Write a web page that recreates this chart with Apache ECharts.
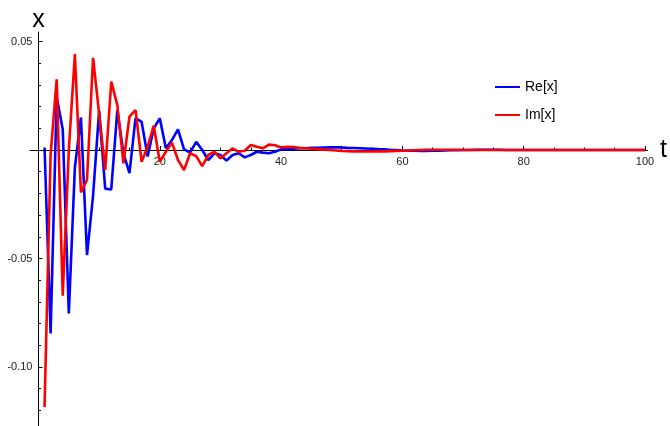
<!DOCTYPE html>
<html>
<head>
<meta charset="utf-8">
<script src="https://cdn.jsdelivr.net/npm/echarts@6/dist/echarts.min.js"></script>
<style>
  html, body { margin: 0; padding: 0; background: #fff; }
  #chart { width: 670px; height: 426px; }
</style>
</head>
<body>
<div id="chart"></div>
<script>
// time steps 1..100
const tValues = Array.from({ length: 100 }, (_, i) => i + 1);

const reValues = [
  0.0012, -0.0845, 0.0246, 0.0095, -0.0753, -0.0080, 0.0150, -0.0484, -0.0210, 0.0182,
  -0.0178, -0.0182, 0.0184, -0.0014, -0.0106, 0.0147, 0.0130, -0.0030, 0.0100, 0.0146,
  0.0008, 0.0046, 0.0095, 0.0003, -0.0012, 0.0038, 0.0000, -0.0046, -0.0015, -0.0023,
  -0.0049, -0.0023, -0.0015, -0.0034, -0.0023, -0.0008, -0.0012, -0.0015, -0.0008, 0.0003,
  0.0005, 0.0006, 0.0008, 0.0008, 0.0010, 0.0010, 0.0011, 0.0012, 0.0012, 0.0012,
  0.0010, 0.0009, 0.0008, 0.0007, 0.0006, 0.0004, 0.0003, 0.0001, 0.0000, -0.0002,
  -0.0003, -0.0003, -0.0004, -0.0004, -0.0003, -0.0003, -0.0002, -0.0001, -0.0001, 0.0000,
  0.0000, 0.0001, 0.0001, 0.0001, 0.0001, 0.0001, 0.0000, 0.0000, 0.0000, 0.0000,
  0.0000, 0.0000, 0.0000, 0.0000, 0.0000, 0.0000, 0.0000, 0.0000, 0.0000, 0.0000,
  0.0000, 0.0000, 0.0000, 0.0000, 0.0000, 0.0000, 0.0000, 0.0000, 0.0000, 0.0000
];

const imValues = [
  -0.1184, -0.0020, 0.0326, -0.0671, 0.0000, 0.0442, -0.0195, -0.0138, 0.0425, 0.0166,
  -0.0092, 0.0315, 0.0207, -0.0061, 0.0154, 0.0184, -0.0054, 0.0015, 0.0112, -0.0054,
  -0.0008, 0.0034, -0.0046, -0.0092, -0.0015, -0.0028, -0.0074, -0.0023, -0.0008, -0.0038,
  -0.0015, 0.0008, -0.0008, -0.0003, 0.0023, 0.0015, 0.0008, 0.0025, 0.0022, 0.0012,
  0.0015, 0.0014, 0.0010, 0.0008, 0.0006, 0.0004, 0.0002, 0.0000, -0.0002, -0.0004,
  -0.0005, -0.0006, -0.0007, -0.0007, -0.0007, -0.0006, -0.0006, -0.0005, -0.0004, -0.0003,
  -0.0002, -0.0001, 0.0000, 0.0001, 0.0001, 0.0001, 0.0001, 0.0001, 0.0001, 0.0000,
  0.0000, 0.0000, 0.0000, 0.0000, 0.0000, 0.0000, 0.0000, 0.0000, 0.0000, 0.0000,
  0.0000, 0.0000, 0.0000, 0.0000, 0.0000, 0.0000, 0.0000, 0.0000, 0.0000, 0.0000,
  0.0000, 0.0000, 0.0000, 0.0000, 0.0000, 0.0000, 0.0000, 0.0000, 0.0000, 0.0000
];

const xTicks = [20, 40, 60, 80, 100];
const xMinorTicks = [5, 10, 15, 25, 30, 35, 45, 50, 55, 65, 70, 75, 85, 90, 95];
const yTicks = [-0.10, -0.05, 0.05];
const yMinorTicks = [-0.12, -0.11, -0.09, -0.08, -0.07, -0.06, -0.04, -0.03, -0.02, -0.01,
  0.01, 0.02, 0.03, 0.04];

const xMin = -1.4, xMax = 100.4;
const yMin = -0.1272, yMax = 0.0544;

const gridLeft = 30, gridRight = 22.6, gridTop = 32, gridBottom = 0;
const gridW = 670 - gridLeft - gridRight;
const gridH = 426 - gridTop - gridBottom;
// axes cross at (0, 0)
const xAxisOffset = -gridH * (0 - yMin) / (yMax - yMin);
const yAxisOffset = -gridW * (0 - xMin) / (xMax - xMin);

const font = 'Liberation Sans, Arial, sans-serif';
const axisColor = '#000';

const pairs = vals => tValues.map((t, i) => [t, vals[i]]);

const option = {
  animation: false,
  backgroundColor: '#fff',
  grid: {
    left: gridLeft, right: gridRight, top: gridTop, bottom: gridBottom,
    containLabel: false,
    outerBoundsMode: 'none'
  },
  legend: {
    orient: 'vertical',
    left: 490,
    top: 75,
    itemWidth: 25,
    itemHeight: 14,
    itemGap: 14,
    icon: 'path://M0,0L25,0L25,2L0,2Z',
    symbolKeepAspect: true,
    data: ['Re[x]', 'Im[x]'],
    textStyle: { fontFamily: font, fontSize: 14, color: '#000' }
  },
  xAxis: [
    {
      type: 'value', min: xMin, max: xMax,
      position: 'bottom', offset: xAxisOffset,
      name: 't', nameLocation: 'end', nameGap: 10,
      nameTextStyle: { fontFamily: font, fontSize: 25, color: '#000', padding: [10, 0, 0, 0] },
      axisLine: { onZero: false, lineStyle: { color: axisColor, width: 1 } },
      axisTick: { inside: true, length: 4, customValues: xTicks, lineStyle: { color: axisColor } },
      axisLabel: { customValues: xTicks, margin: 6, fontFamily: font, fontSize: 11, color: '#222' },
      splitLine: { show: false }
    },
    {
      type: 'value', min: xMin, max: xMax,
      position: 'bottom', offset: xAxisOffset,
      axisLine: { show: false, onZero: false },
      axisTick: { inside: true, length: 2.5, customValues: xMinorTicks, lineStyle: { color: axisColor } },
      axisLabel: { show: false },
      splitLine: { show: false }
    }
  ],
  yAxis: [
    {
      type: 'value', min: yMin, max: yMax,
      position: 'left', offset: yAxisOffset,
      name: 'x', nameLocation: 'end', nameGap: 12,
      nameTextStyle: { fontFamily: font, fontSize: 25, color: '#000', align: 'center', verticalAlign: 'middle' },
      axisLine: { onZero: false, lineStyle: { color: axisColor, width: 1 } },
      axisTick: { inside: true, length: 4, customValues: yTicks, lineStyle: { color: axisColor } },
      axisLabel: {
        customValues: yTicks, margin: 6, fontFamily: font, fontSize: 11, color: '#222',
        formatter: v => v.toFixed(2)
      },
      splitLine: { show: false }
    },
    {
      type: 'value', min: yMin, max: yMax,
      position: 'left', offset: yAxisOffset,
      axisLine: { show: false, onZero: false },
      axisTick: { inside: true, length: 2.5, customValues: yMinorTicks, lineStyle: { color: axisColor } },
      axisLabel: { show: false },
      splitLine: { show: false }
    }
  ],
  series: [
    {
      name: 'Re[x]', type: 'line', xAxisIndex: 0, yAxisIndex: 0,
      symbol: 'none', smooth: false,
      lineStyle: { color: '#0000ff', width: 2.6 },
      itemStyle: { color: '#0000ff' },
      data: pairs(reValues)
    },
    {
      name: 'Im[x]', type: 'line', xAxisIndex: 0, yAxisIndex: 0,
      symbol: 'none', smooth: false,
      lineStyle: { color: '#ff0000', width: 2.6 },
      itemStyle: { color: '#ff0000' },
      data: pairs(imValues)
    }
  ]
};

const chart = echarts.init(document.getElementById('chart'), null, { renderer: 'canvas' });
chart.setOption(option);
</script>
</body>
</html>
